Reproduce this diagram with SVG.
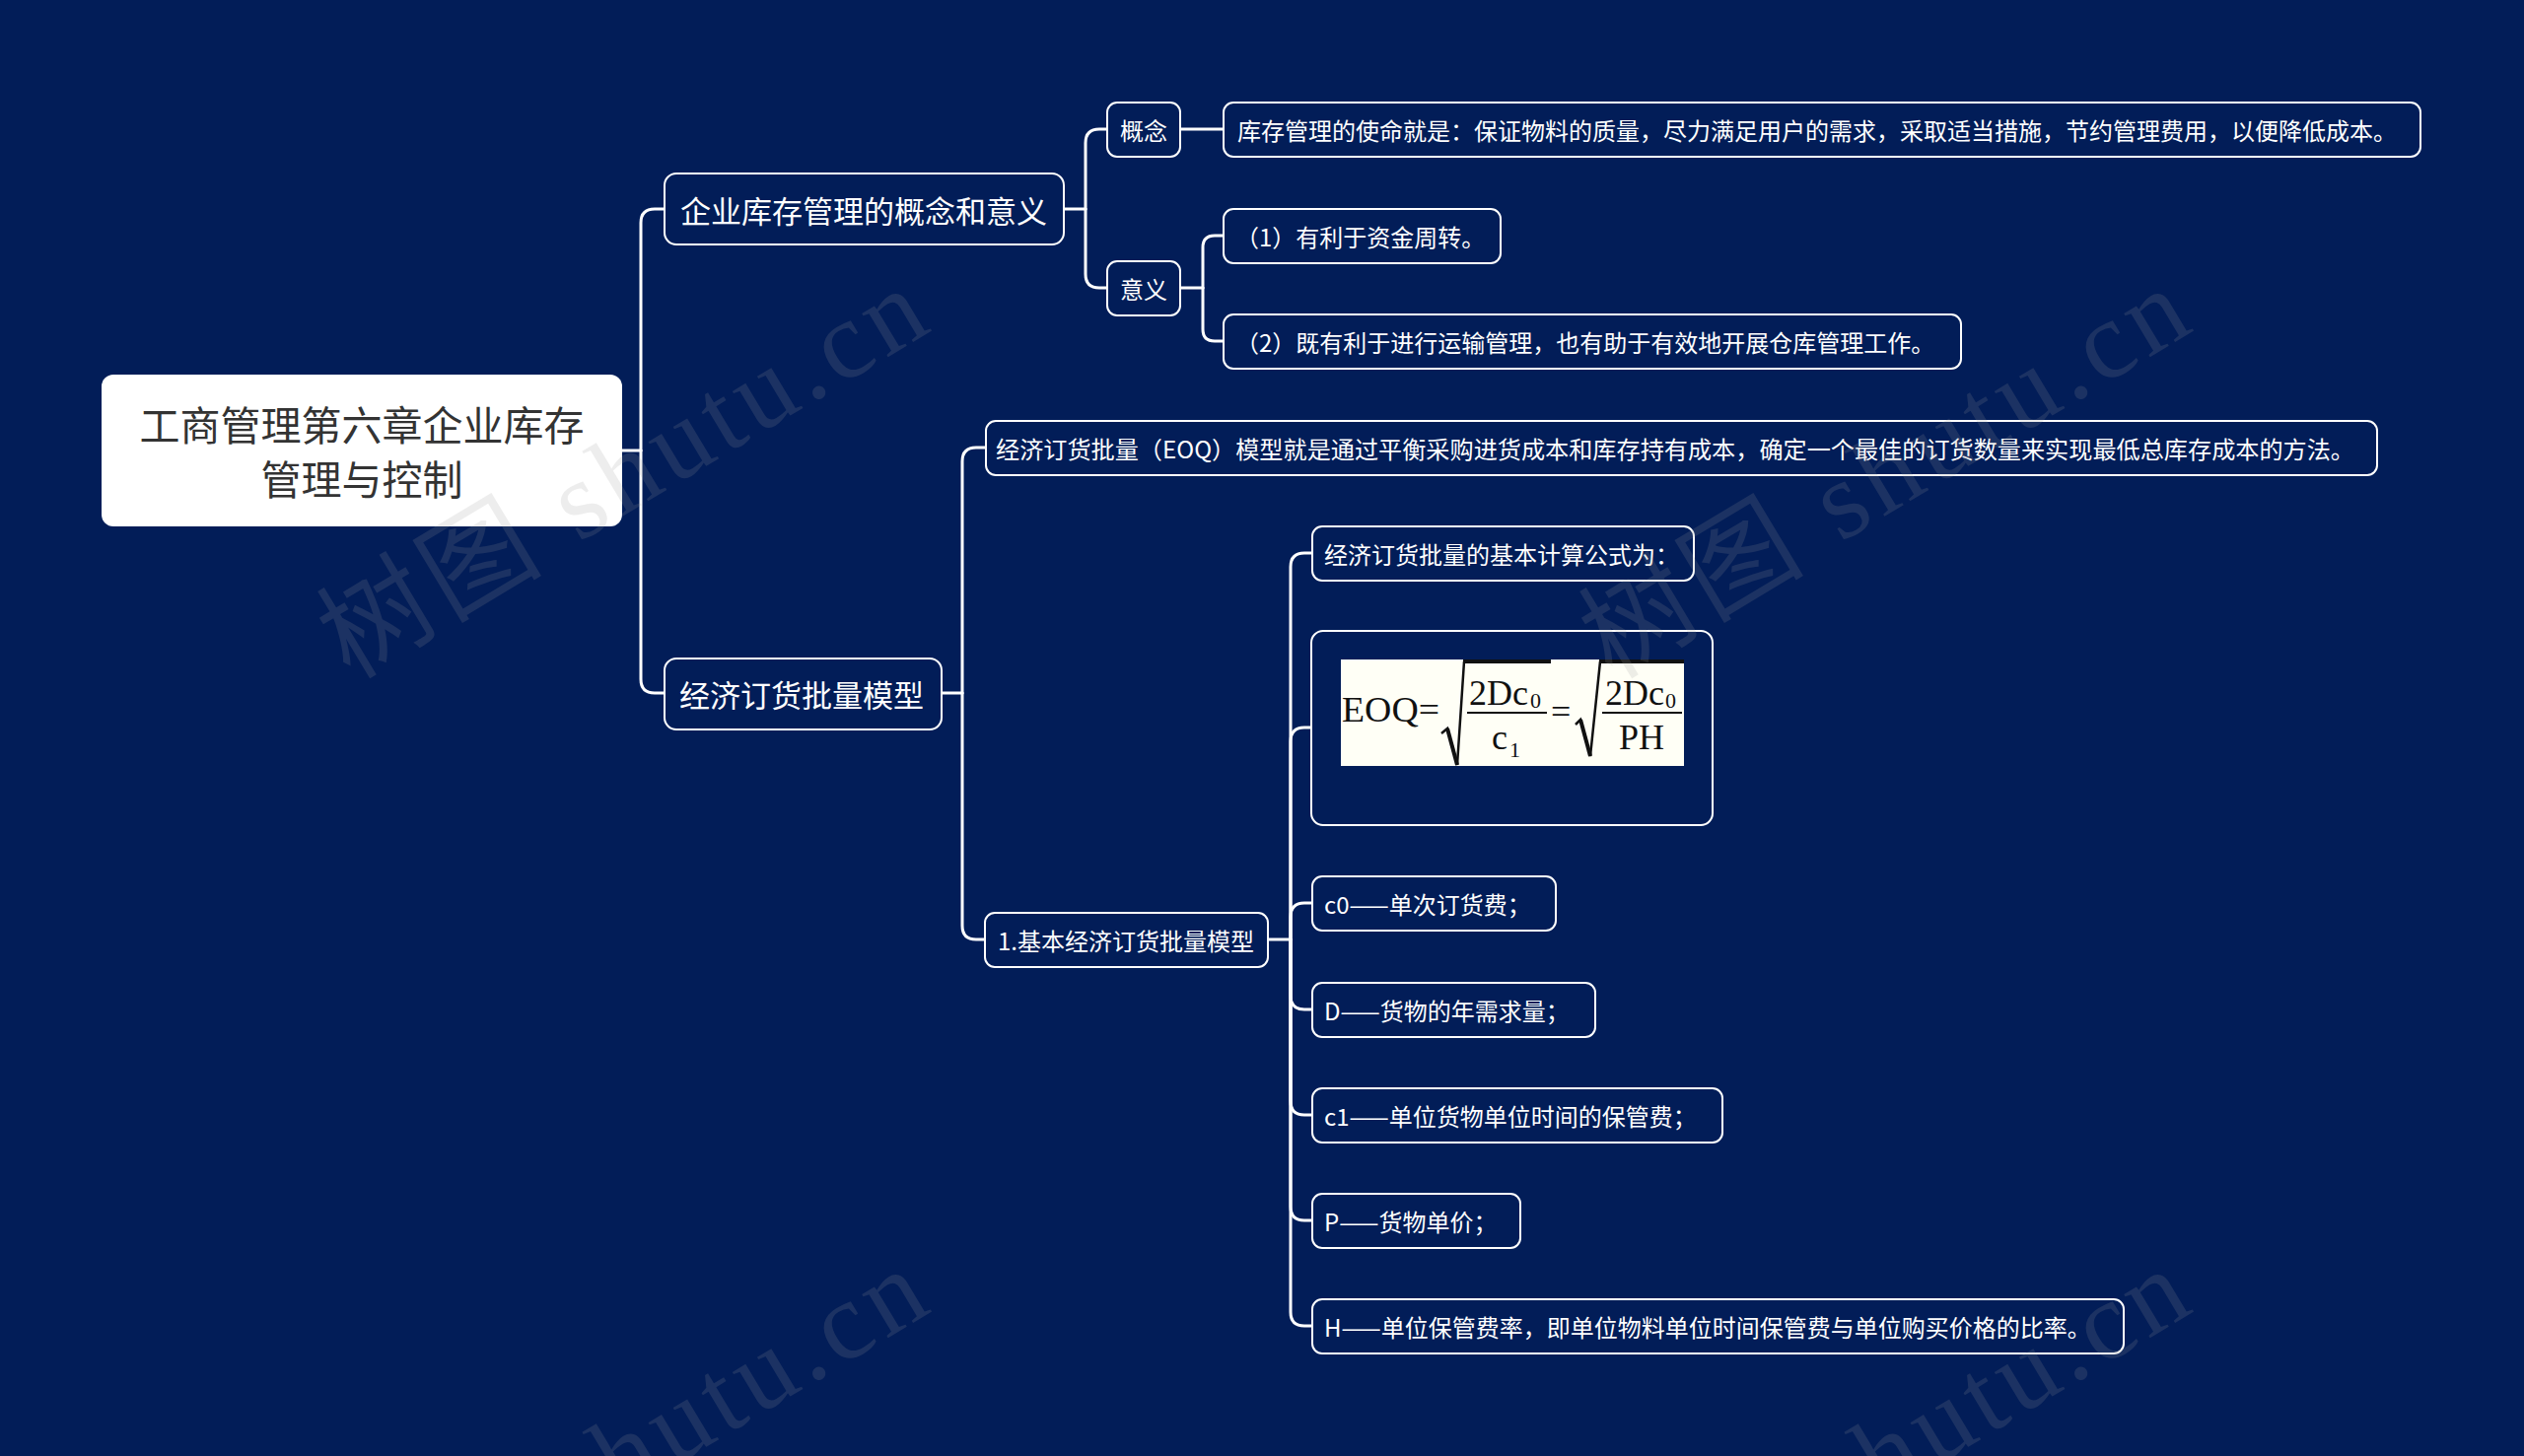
<svg xmlns="http://www.w3.org/2000/svg" xmlns:xlink="http://www.w3.org/1999/xlink" width="2560" height="1477" viewBox="0 0 2560 1477">
<defs>
<style>
.bg{fill:#021d58;}
.box{fill:#021d58;stroke:#ffffff;stroke-width:2;}
.root{fill:#ffffff;}
.t{font-family:"Noto Sans CJK SC","Microsoft YaHei",sans-serif;fill:#ffffff;font-size:24px;dominant-baseline:central;}
.t1{font-size:31px;}
.rt{font-family:"Noto Sans CJK SC","Microsoft YaHei",sans-serif;fill:#333333;font-size:41px;text-anchor:middle;dominant-baseline:central;}
.conn path{fill:none;stroke:#ffffff;stroke-width:3;stroke-linecap:round;}
.f{font-family:"Liberation Serif","Times New Roman",serif;fill:#111111;font-size:36px;}
.fs{font-family:"Liberation Serif","Times New Roman",serif;fill:#111111;font-size:22px;}
.wm{font-family:"Liberation Serif","Noto Sans CJK SC",serif;font-size:112px;fill:#9a9a9a;opacity:0.17;}
</style>
<text id="wmark" class="wm" x="355" y="690" textLength="690" transform="rotate(-31 355 690)">树图 shutu.cn</text>
</defs>
<rect class="bg" x="0" y="0" width="2560" height="1477"/>

<g id="connectors" class="conn">
<path d="M631,457 H650"/>
<path d="M650,457 V226 Q650,212 664,212 H674"/>
<path d="M650,457 V689 Q650,703 664,703 H674"/>
<path d="M1079,212 H1101"/>
<path d="M1101,212 V145 Q1101,131 1115,131 H1123"/>
<path d="M1101,212 V278 Q1101,292 1115,292 H1123"/>
<path d="M1197,131 H1241"/>
<path d="M1197,292 H1220"/>
<path d="M1220,292 V251 Q1220,239 1232,239 H1241"/>
<path d="M1220,292 V334 Q1220,346 1232,346 H1241"/>
<path d="M955,703 H976"/>
<path d="M976,703 V468 Q976,454 990,454 H1000"/>
<path d="M976,703 V939 Q976,953 990,953 H999"/>
<path d="M1286,953 H1309"/>
<path d="M1309,953 V575 Q1309,561 1323,561 H1331"/>
<path d="M1309,953 V752 Q1309,738 1323,738 H1330"/>
<path d="M1309,953 V930 Q1309,916 1323,916 H1331"/>
<path d="M1309,953 V1010 Q1309,1024 1323,1024 H1331"/>
<path d="M1309,953 V1117 Q1309,1131 1323,1131 H1331"/>
<path d="M1309,953 V1224 Q1309,1238 1323,1238 H1331"/>
<path d="M1309,953 V1331 Q1309,1345 1323,1345 H1331"/>
</g>

<g id="root">
<rect class="root" x="103" y="380" width="528" height="154" rx="12"/>
<text class="rt" x="367" y="429">工商管理第六章企业库存</text>
<text class="rt" x="367" y="484">管理与控制</text>
</g>

<g id="n1">
<rect class="box" x="674" y="176" width="405" height="72" rx="12"/>
<text class="t t1" x="690" y="212">企业库存管理的概念和意义</text>
</g>

<g id="n1a">
<rect class="box" x="1123" y="104" width="74" height="55" rx="10"/>
<text class="t" x="1160" y="131" text-anchor="middle">概念</text>
</g>
<g id="n1a1">
<rect class="box" x="1241" y="104" width="1214" height="55" rx="10"/>
<text class="t" x="1255" y="131">库存管理的使命就是：保证物料的质量，尽力满足用户的需求，采取适当措施，节约管理费用，以便降低成本。</text>
</g>

<g id="n1b">
<rect class="box" x="1123" y="265" width="74" height="55" rx="10"/>
<text class="t" x="1160" y="292" text-anchor="middle">意义</text>
</g>
<g id="n1b1">
<rect class="box" x="1241" y="212" width="281" height="55" rx="10"/>
<text class="t" x="1253" y="239">（1）有利于资金周转。</text>
</g>
<g id="n1b2">
<rect class="box" x="1241" y="319" width="748" height="55" rx="10"/>
<text class="t" x="1253" y="346">（2）既有利于进行运输管理，也有助于有效地开展仓库管理工作。</text>
</g>

<g id="n2">
<rect class="box" x="674" y="668" width="281" height="72" rx="12"/>
<text class="t t1" x="689" y="703">经济订货批量模型</text>
</g>

<g id="n2a">
<rect class="box" x="1000" y="427" width="1411" height="55" rx="10"/>
<text class="t" x="1010" y="454" textLength="1378" lengthAdjust="spacingAndGlyphs">经济订货批量（EOQ）模型就是通过平衡采购进货成本和库存持有成本，确定一个最佳的订货数量来实现最低总库存成本的方法。</text>
</g>

<g id="n2b">
<rect class="box" x="999" y="926" width="287" height="55" rx="10"/>
<text class="t" x="1012" y="953">1.基本经济订货批量模型</text>
</g>

<g id="n2b1">
<rect class="box" x="1331" y="534" width="387" height="55" rx="10"/>
<text class="t" x="1343" y="561">经济订货批量的基本计算公式为：</text>
</g>

<g id="n2b2">
<rect class="box" x="1330" y="640" width="407" height="197" rx="12"/>
<rect x="1360" y="669" width="348" height="108" fill="#fffff6"/>
<text class="f" x="1361" y="732" textLength="99" lengthAdjust="spacingAndGlyphs">EOQ=</text>
<path d="M1462,744 L1468,739 L1478,776 L1485,671" fill="none" stroke="#111" stroke-width="2.5"/>
<path d="M1468,739 L1478,776" fill="none" stroke="#111" stroke-width="4"/>
<rect x="1484" y="669" width="89" height="4" fill="#111"/>
<text class="f" x="1490" y="715">2Dc</text>
<text class="fs" x="1552" y="718">0</text>
<rect x="1488" y="722" width="81" height="2" fill="#111"/>
<text class="f" x="1513" y="760">c</text>
<text class="fs" x="1531" y="768">1</text>
<text class="f" x="1573" y="734">=</text>
<path d="M1598,735 L1603,730 L1613,767 L1623,671" fill="none" stroke="#111" stroke-width="2.5"/>
<path d="M1603,730 L1613,767" fill="none" stroke="#111" stroke-width="4"/>
<rect x="1622" y="669" width="86" height="4" fill="#111"/>
<text class="f" x="1628" y="715">2Dc</text>
<text class="fs" x="1689" y="718">0</text>
<rect x="1625" y="722" width="81" height="2" fill="#111"/>
<text class="f" x="1642" y="760">PH</text>
</g>

<g id="n2b3">
<rect class="box" x="1331" y="889" width="247" height="55" rx="10"/>
<text class="t" x="1343" y="916">c0——单次订货费；</text>
</g>
<g id="n2b4">
<rect class="box" x="1331" y="997" width="287" height="55" rx="10"/>
<text class="t" x="1343" y="1024">D——货物的年需求量；</text>
</g>
<g id="n2b5">
<rect class="box" x="1331" y="1104" width="416" height="55" rx="10"/>
<text class="t" x="1343" y="1131">c1——单位货物单位时间的保管费；</text>
</g>
<g id="n2b6">
<rect class="box" x="1331" y="1211" width="211" height="55" rx="10"/>
<text class="t" x="1343" y="1238">P——货物单价；</text>
</g>
<g id="n2b7">
<rect class="box" x="1331" y="1318" width="823" height="55" rx="10"/>
<text class="t" x="1343" y="1345">H——单位保管费率，即单位物料单位时间保管费与单位购买价格的比率。</text>
</g>

<g id="watermarks">
<use xlink:href="#wmark"/>
<use xlink:href="#wmark" x="1280" y="0"/>
<use xlink:href="#wmark" x="0" y="995"/>
<use xlink:href="#wmark" x="1280" y="995"/>
</g>
</svg>
